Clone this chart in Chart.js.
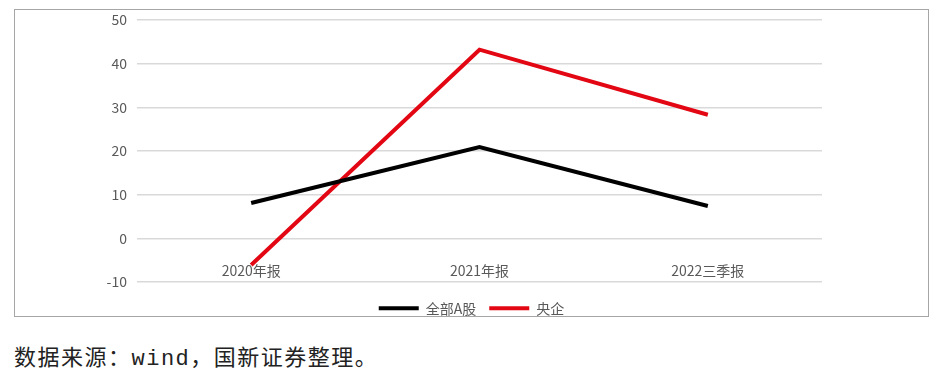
<!DOCTYPE html>
<html>
<head>
<meta charset="utf-8">
<script src="https://cdn.jsdelivr.net/npm/chart.js@4"></script>
<style>
  html, body { margin: 0; padding: 0; background: #fff; }
  #box {
    position: absolute; left: 14px; top: 9px;
    width: 913px; height: 306px;
    border: 1px solid #a6a6a6;
  }
  #chart-area { position: absolute; left: 15px; top: 10px; }
  #note {
    position: absolute; left: 14px; top: 339px;
    font-family: "Liberation Mono", "Noto Sans CJK SC", monospace;
    font-size: 22px; color: #222; letter-spacing: 1.5px;
    white-space: nowrap;
  }
</style>
</head>
<body>
<div id="box"></div>
<canvas id="chart-area" width="913" height="320"></canvas>
<div id="note">数据来源：wind，国新证券整理。</div>
<script>
  var categories = ['2020年报', '2021年报', '2022三季报'];
  var allA = [8.1, 20.9, 7.4];
  var centralSoe = [-6.1, 43.2, 28.3];
  var seriesNames = ['全部A股', '央企'];
  var yTicks = [-10, 0, 10, 20, 30, 40, 50];

  var tickColor = '#595959';
  var font = { family: '"Noto Sans CJK SC", "Noto Sans", sans-serif', size: 14 };

  var config = {
    type: 'line',
    data: {
      labels: categories,
      datasets: [{
        label: seriesNames[0],
        data: allA,
        borderColor: '#000000',
        backgroundColor: '#000000',
        borderWidth: 4,
        pointRadius: 0,
        tension: 0
      }, {
        label: seriesNames[1],
        data: centralSoe,
        borderColor: '#e30613',
        backgroundColor: '#e30613',
        borderWidth: 4,
        pointRadius: 0,
        tension: 0
      }]
    },
    options: {
      responsive: false,
      animation: false,
      layout: { padding: { left: 0, right: 0, top: 10, bottom: 0 } },
      plugins: {
        legend: {
          position: 'bottom',
          title: {
            display: true,
            text: ' ',
            font: { size: 1 },
            padding: { top: 5, bottom: 0 }
          },
          labels: {
            color: tickColor,
            font: font,
            boxWidth: 40,
            boxHeight: 4,
            padding: 13,
            generateLabels: function (chart) {
              var items = Chart.defaults.plugins.legend.labels.generateLabels(chart);
              items.forEach(function (it) { it.lineWidth = 0; });
              return items;
            }
          }
        },
        tooltip: { enabled: false }
      },
      scales: {
        x: {
          position: { y: 0 },
          offset: true,
          grid: { display: false },
          border: { display: false },
          ticks: { color: tickColor, font: font, padding: 16 }
        },
        y: {
          min: yTicks[0],
          max: yTicks[yTicks.length - 1],
          afterBuildTicks: function (scale) {
            scale.ticks = yTicks.map(function (v) { return { value: v }; });
          },
          afterFit: function (scale) {
            scale.width = 122;
            scale.paddingTop = 0;
            scale.paddingBottom = 48;
            scale.paddingRight = 106;
          },
          grid: { color: '#d9d9d9', lineWidth: 1.5, drawTicks: false },
          border: { display: false },
          ticks: { color: tickColor, font: font, padding: 10 }
        }
      }
    }
  };

  var ctx = document.getElementById('chart-area').getContext('2d');
  window.myLine = new Chart(ctx, config);
</script>
</body>
</html>
